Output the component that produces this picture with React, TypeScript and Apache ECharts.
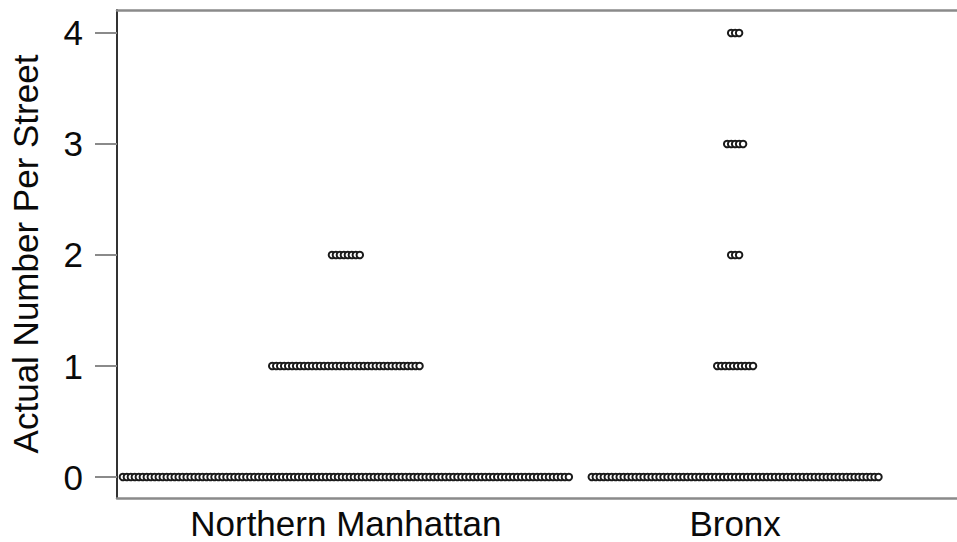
import React, { useEffect, useRef } from "react";
import * as echarts from "echarts";

// Categories along the x axis
const categories: string[] = ["Northern Manhattan", "Bronx"];
// Possible values (y) per street
const yValues: number[] = [0, 1, 2, 3, 4];
// Number of streets at each value, per category (read from the dot rows)
const countsNorthernManhattan: number[] = [113, 38, 8, 0, 0];
const countsBronx: number[] = [73, 10, 3, 5, 3];
// Y tick labels
const yTicks: number[] = [0, 1, 2, 3, 4];
// Category positions on the x scale
const categoryPositions: number[] = [0, 1];

const DOT_STEP = 0.01023; // horizontal spacing of stacked dots, in category units

function buildPoints(): number[][] {
  const all = [countsNorthernManhattan, countsBronx];
  const pts: number[][] = [];
  all.forEach((counts, ci) => {
    counts.forEach((n, vi) => {
      for (let k = 0; k < n; k++) {
        pts.push([categoryPositions[ci] + (k - (n - 1) / 2) * DOT_STEP, yValues[vi]]);
      }
    });
  });
  return pts;
}

export default function App() {
  const ref = useRef<HTMLDivElement>(null);
  useEffect(() => {
    if (!ref.current) return;
    const chart = echarts.init(ref.current, null, { renderer: "svg" });
    const font = "'Liberation Sans', Arial, sans-serif";
    const xMin = -0.588;
    const xMax = 1.57;
    chart.setOption({
      animation: false,
      backgroundColor: "#ffffff",
      grid: { left: 113, top: 10, right: 0, bottom: 44, containLabel: false },
      xAxis: [
        {
          type: "value",
          min: xMin,
          max: xMax,
          position: "bottom",
          splitLine: { show: false },
          axisLine: { show: true, onZero: false, lineStyle: { color: "#8a8a8a", width: 2.5 } },
          axisTick: { show: false },
          axisLabel: {
            show: true,
            customValues: categoryPositions,
            formatter: (v: number) => {
              const i = categoryPositions.indexOf(Math.round(v));
              return i >= 0 ? categories[i] : "";
            },
            fontSize: 35,
            fontFamily: font,
            color: "#0a0a0a",
            margin: 8,
            hideOverlap: false,
          },
        },
        {
          type: "value",
          min: xMin,
          max: xMax,
          position: "top",
          splitLine: { show: false },
          axisLine: { show: true, onZero: false, lineStyle: { color: "#8a8a8a", width: 2.5 } },
          axisTick: { show: false },
          axisLabel: { show: false },
        },
      ],
      yAxis: {
        type: "value",
        min: -0.189,
        max: 4.207,
        name: "Actual Number Per Street",
        nameLocation: "middle",
        nameGap: 74,
        nameTextStyle: { fontSize: 35, fontFamily: font, color: "#0a0a0a" },
        splitLine: { show: false },
        axisLine: { show: true, onZero: false, lineStyle: { color: "#333333", width: 2 } },
        axisTick: {
          show: true,
          length: 22,
          customValues: yTicks,
          lineStyle: { color: "#8a8a8a", width: 2 },
        },
        axisLabel: {
          customValues: yTicks,
          fontSize: 35,
          fontFamily: font,
          color: "#0a0a0a",
          margin: 34,
        },
      },
      series: [
        {
          type: "scatter",
          xAxisIndex: 0,
          yAxisIndex: 0,
          data: buildPoints(),
          symbol: "circle",
          symbolSize: 6.5,
          itemStyle: { color: "#ffffff", borderColor: "#1a1a1a", borderWidth: 2, opacity: 1 },
          silent: true,
        },
      ],
    });
    return () => chart.dispose();
  }, []);
  return (
    <div
      ref={ref}
      style={{ position: "absolute", left: 0, top: 0, width: 957, height: 542 }}
    />
  );
}
